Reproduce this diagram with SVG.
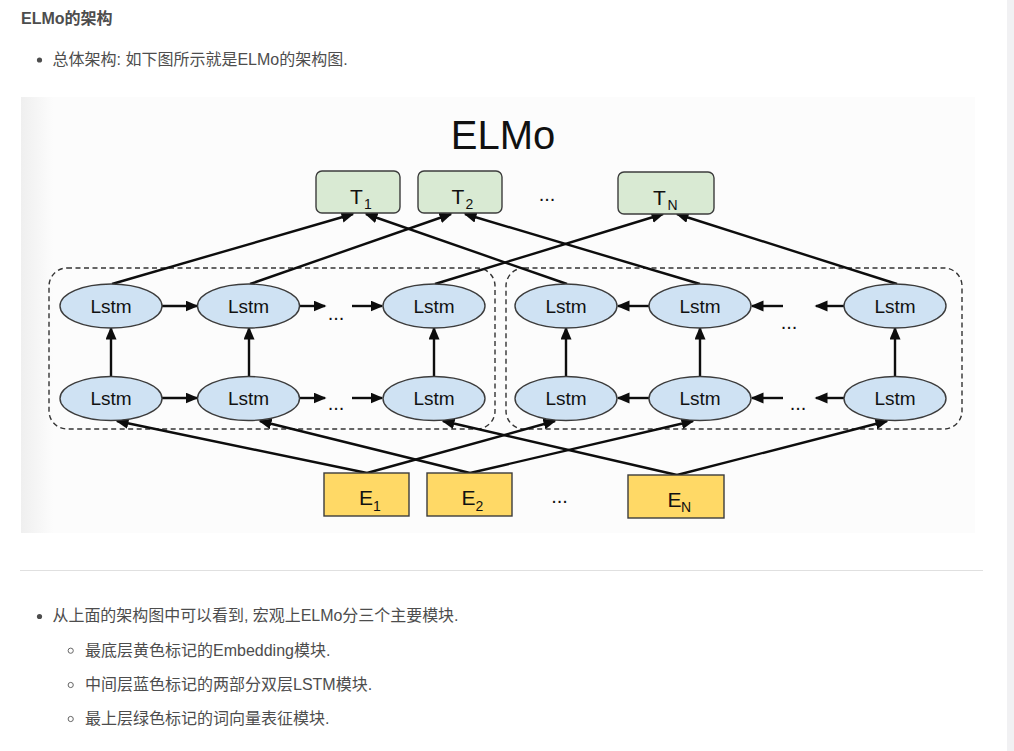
<svg xmlns="http://www.w3.org/2000/svg" width="1014" height="751" viewBox="0 0 1014 751">
<style>
.page{font-family:"Liberation Sans","Noto Sans CJK SC",sans-serif;fill:#4d4d4d;font-size:16px}
.lbl{font-family:"Liberation Sans",Arial,sans-serif;fill:#111}
.lstm{fill:#cfe2f3;stroke:#3c3c3c;stroke-width:1.4}
.tbox{fill:#d9ead3;stroke:#3c3c3c;stroke-width:1.4}
.ebox{fill:#ffd966;stroke:#3c3c3c;stroke-width:1.4}
.dash{fill:none;stroke:#333;stroke-width:1.4;stroke-dasharray:5 3.5}
.con{stroke:#0d0d0d;stroke-width:2.4;fill:none;marker-end:url(#ah)}
</style>
<defs>
<marker id="ah" markerUnits="userSpaceOnUse" markerWidth="14" markerHeight="12" refX="11.5" refY="5.5" orient="auto">
<path d="M0,0 L13,5.5 L0,11 z" fill="#0d0d0d"/>
</marker>
<linearGradient id="lg" x1="0" y1="0" x2="1" y2="0">
<stop offset="0" stop-color="#efefef"/>
<stop offset="1" stop-color="#fcfcfc"/>
</linearGradient>
</defs>
<rect width="1014" height="751" fill="#fff"/>
<rect x="1007" y="0" width="7" height="751" fill="#f1f1f3"/>

<g id="page-text" class="page">
<text x="21" y="24" font-weight="bold">ELMo的架构</text>
<circle cx="39.5" cy="60" r="2.6" fill="#4d4d4d"/>
<text x="52.5" y="65">总体架构: 如下图所示就是ELMo的架构图.</text>
<circle cx="39.5" cy="616.5" r="2.6" fill="#4d4d4d"/>
<text x="52.5" y="621" textLength="406" lengthAdjust="spacingAndGlyphs">从上面的架构图中可以看到, 宏观上ELMo分三个主要模块.</text>
<circle cx="70.7" cy="650.7" r="2.6" fill="none" stroke="#666" stroke-width="1"/>
<text x="85" y="655.5">最底层黄色标记的Embedding模块.</text>
<circle cx="70.7" cy="685" r="2.6" fill="none" stroke="#666" stroke-width="1"/>
<text x="85" y="689.5">中间层蓝色标记的两部分双层LSTM模块.</text>
<circle cx="70.7" cy="719" r="2.6" fill="none" stroke="#666" stroke-width="1"/>
<text x="85" y="723.5">最上层绿色标记的词向量表征模块.</text>
</g>
<line x1="20" y1="570.5" x2="983" y2="570.5" stroke="#e0e0e0" stroke-width="1.2"/>

<!-- figure background -->
<rect x="21" y="97" width="954" height="436" fill="#fcfcfc"/>
<rect x="21" y="97" width="32" height="436" fill="url(#lg)"/>

<text class="lbl" x="503" y="149" font-size="40" text-anchor="middle">ELMo</text>

<g id="groups">
<rect class="dash" x="49" y="268" width="446" height="161" rx="18"/>
<rect class="dash" x="506" y="268" width="456" height="161" rx="18"/>
</g>

<g id="connectors">
<!-- top outputs -->
<line class="con" x1="112" y1="284" x2="353" y2="214"/>
<line class="con" x1="250" y1="284" x2="451" y2="214"/>
<line class="con" x1="435" y1="284" x2="663" y2="214"/>
<line class="con" x1="567" y1="284" x2="366" y2="214"/>
<line class="con" x1="700" y1="284" x2="465" y2="214"/>
<line class="con" x1="897" y1="284" x2="677" y2="214"/>
<!-- bottom inputs -->
<line class="con" x1="367" y1="473" x2="117" y2="421"/>
<line class="con" x1="367" y1="473" x2="555" y2="421"/>
<line class="con" x1="470" y1="473" x2="260" y2="421"/>
<line class="con" x1="470" y1="473" x2="693" y2="421"/>
<line class="con" x1="677" y1="475" x2="443" y2="421"/>
<line class="con" x1="677" y1="475" x2="887" y2="421"/>
<!-- vertical -->
<line class="con" x1="111" y1="376" x2="111" y2="328"/>
<line class="con" x1="249" y1="376" x2="249" y2="328"/>
<line class="con" x1="434" y1="376" x2="434" y2="328"/>
<line class="con" x1="566" y1="376" x2="566" y2="328"/>
<line class="con" x1="700" y1="376" x2="700" y2="328"/>
<line class="con" x1="895" y1="376" x2="895" y2="328"/>
<!-- forward horizontal -->
<line class="con" x1="162" y1="306" x2="197" y2="306"/>
<line class="con" x1="299" y1="306" x2="325" y2="306"/>
<line class="con" x1="352" y1="306" x2="382" y2="306"/>
<line class="con" x1="162" y1="398" x2="197" y2="398"/>
<line class="con" x1="299" y1="398" x2="325" y2="398"/>
<line class="con" x1="352" y1="398" x2="382" y2="398"/>
<!-- backward horizontal -->
<line class="con" x1="649" y1="306" x2="618" y2="306"/>
<line class="con" x1="783" y1="306" x2="752" y2="306"/>
<line class="con" x1="844" y1="306" x2="816" y2="306"/>
<line class="con" x1="649" y1="398" x2="618" y2="398"/>
<line class="con" x1="783" y1="398" x2="752" y2="398"/>
<line class="con" x1="844" y1="398" x2="816" y2="398"/>
</g>

<g id="dots" class="lbl" font-size="20" text-anchor="middle">
<text x="336" y="320">...</text>
<text x="336" y="410">...</text>
<text x="789" y="329">...</text>
<text x="798" y="410">...</text>
<text x="547" y="201">...</text>
<text x="559.5" y="503">...</text>
</g>

<g id="T1"><rect class="tbox" x="316" y="171" width="84" height="42" rx="6"/>
<text class="lbl" x="350" y="204" font-size="21">T</text><text class="lbl" x="364" y="208.5" font-size="14">1</text></g>
<g id="T2"><rect class="tbox" x="418" y="171" width="84" height="42" rx="6"/>
<text class="lbl" x="451.5" y="204" font-size="21">T</text><text class="lbl" x="465.5" y="208.5" font-size="14">2</text></g>
<g id="TN"><rect class="tbox" x="618" y="172" width="96" height="42" rx="6"/>
<text class="lbl" x="653" y="205" font-size="21">T</text><text class="lbl" x="667.5" y="210" font-size="14">N</text></g>

<g id="Lf1t"><ellipse class="lstm" cx="111" cy="306" rx="51" ry="22"/><text class="lbl" x="111" y="312.5" font-size="19" text-anchor="middle">Lstm</text></g>
<g id="Lf2t"><ellipse class="lstm" cx="248.5" cy="306" rx="51" ry="22"/><text class="lbl" x="248.5" y="312.5" font-size="19" text-anchor="middle">Lstm</text></g>
<g id="Lf3t"><ellipse class="lstm" cx="434" cy="306" rx="51" ry="22"/><text class="lbl" x="434" y="312.5" font-size="19" text-anchor="middle">Lstm</text></g>
<g id="Lf1b"><ellipse class="lstm" cx="111" cy="398.5" rx="51" ry="22"/><text class="lbl" x="111" y="405" font-size="19" text-anchor="middle">Lstm</text></g>
<g id="Lf2b"><ellipse class="lstm" cx="248.5" cy="398.5" rx="51" ry="22"/><text class="lbl" x="248.5" y="405" font-size="19" text-anchor="middle">Lstm</text></g>
<g id="Lf3b"><ellipse class="lstm" cx="434" cy="398.5" rx="51" ry="22"/><text class="lbl" x="434" y="405" font-size="19" text-anchor="middle">Lstm</text></g>
<g id="Lb1t"><ellipse class="lstm" cx="566" cy="306" rx="51" ry="22"/><text class="lbl" x="566" y="312.5" font-size="19" text-anchor="middle">Lstm</text></g>
<g id="Lb2t"><ellipse class="lstm" cx="700" cy="306" rx="51" ry="22"/><text class="lbl" x="700" y="312.5" font-size="19" text-anchor="middle">Lstm</text></g>
<g id="Lb3t"><ellipse class="lstm" cx="895" cy="306" rx="51" ry="22"/><text class="lbl" x="895" y="312.5" font-size="19" text-anchor="middle">Lstm</text></g>
<g id="Lb1b"><ellipse class="lstm" cx="566" cy="398.5" rx="51" ry="22"/><text class="lbl" x="566" y="405" font-size="19" text-anchor="middle">Lstm</text></g>
<g id="Lb2b"><ellipse class="lstm" cx="700" cy="398.5" rx="51" ry="22"/><text class="lbl" x="700" y="405" font-size="19" text-anchor="middle">Lstm</text></g>
<g id="Lb3b"><ellipse class="lstm" cx="895" cy="398.5" rx="51" ry="22"/><text class="lbl" x="895" y="405" font-size="19" text-anchor="middle">Lstm</text></g>

<g id="E1"><rect class="ebox" x="324" y="473" width="85" height="43"/>
<text class="lbl" x="359" y="505" font-size="21">E</text><text class="lbl" x="373" y="510.5" font-size="14">1</text></g>
<g id="E2"><rect class="ebox" x="427" y="473" width="85" height="43"/>
<text class="lbl" x="461.5" y="505" font-size="21">E</text><text class="lbl" x="475.5" y="510.5" font-size="14">2</text></g>
<g id="EN"><rect class="ebox" x="628" y="475" width="96" height="43"/>
<text class="lbl" x="667.5" y="506.5" font-size="21">E</text><text class="lbl" x="681" y="512" font-size="14">N</text></g>
</svg>
